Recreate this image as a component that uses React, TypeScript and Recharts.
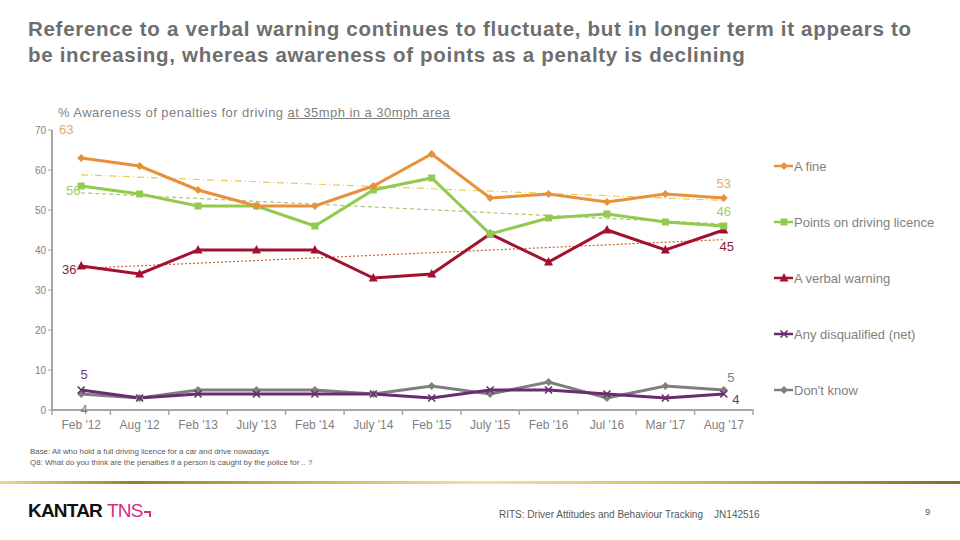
import React from 'react';
import { LineChart, Line, XAxis, YAxis, ReferenceLine, LabelList } from 'recharts';

const months = ["Feb '12", "Aug '12", "Feb '13", "July '13", "Feb '14", "July '14", "Feb '15", "July '15", "Feb '16", "Jul '16", "Mar '17", "Aug '17"];
const fine = [63, 61, 55, 51, 51, 56, 64, 53, 54, 52, 54, 53];
const points = [56, 54, 51, 51, 46, 55, 58, 44, 48, 49, 47, 46];
const verbal = [36, 34, 40, 40, 40, 33, 34, 44, 37, 45, 40, 45];
const disqualified = [5, 3, 4, 4, 4, 4, 3, 5, 5, 4, 3, 4];
const dontKnow = [4, 3, 5, 5, 5, 4, 6, 4, 7, 3, 6, 5];
const yTicks = [0, 10, 20, 30, 40, 50, 60, 70];

// trend endpoints (first / last wave)
const fineTrend = [58.8, 52.4];
const pointsTrend = [54.3, 46.5];
const verbalTrend = [35.4, 42.6];

const data = months.map((m, i) => ({
  month: m,
  fine: fine[i],
  points: points[i],
  verbal: verbal[i],
  disqualified: disqualified[i],
  dontKnow: dontKnow[i],
}));

const GREY = '#7f7f7f';
const AXIS = '#a6a6a6';
const FONT = '"Liberation Sans", Arial, sans-serif';
const BAND = 701 / 12;

type Shape = 'diamond' | 'square' | 'triangle' | 'cross';

function Marker({ cx, cy, shape, color }: { cx: number; cy: number; shape: Shape; color: string }) {
  if (cx == null || cy == null) return null;
  if (shape === 'square') return <rect x={cx - 3.5} y={cy - 3.5} width={7} height={7} fill={color} />;
  if (shape === 'triangle')
    return <polygon points={`${cx},${cy - 5} ${cx + 4.5},${cy + 3.5} ${cx - 4.5},${cy + 3.5}`} fill={color} />;
  if (shape === 'cross')
    return (
      <g stroke={color} strokeWidth={1.6}>
        <line x1={cx - 3.5} y1={cy - 3.5} x2={cx + 3.5} y2={cy + 3.5} />
        <line x1={cx - 3.5} y1={cy + 3.5} x2={cx + 3.5} y2={cy - 3.5} />
      </g>
    );
  return <polygon points={`${cx},${cy - 4} ${cx + 4},${cy} ${cx},${cy + 4} ${cx - 4},${cy}`} fill={color} />;
}

function endLabels(color: string, first: [number, number], last: [number, number]) {
  return (props: any) => {
    const { x, y, index, value } = props;
    if (index !== 0 && index !== months.length - 1) return null;
    const [dx, dy] = index === 0 ? first : last;
    return (
      <text key={index} x={x + dx} y={y + dy} fill={color} fontSize={13} fontFamily={FONT} textAnchor="middle" dominantBaseline="central">
        {value}
      </text>
    );
  };
}

function MonthTick(props: any) {
  const { x, y, payload, index } = props;
  return (
    <g>
      <line x1={x - BAND / 2} y1={y - 1} x2={x - BAND / 2} y2={y + 5} stroke={AXIS} strokeWidth={1.5} />
      {index === months.length - 1 && (
        <line x1={x + BAND / 2} y1={y - 1} x2={x + BAND / 2} y2={y + 5} stroke={AXIS} strokeWidth={1.5} />
      )}
      <text x={x} y={y + 19} textAnchor="middle" fontSize={12} fill={GREY} fontFamily={FONT}>
        {payload.value}
      </text>
    </g>
  );
}

const legendItems: { label: string; color: string; shape: Shape }[] = [
  { label: 'A fine', color: '#e8913a', shape: 'diamond' },
  { label: 'Points on driving licence', color: '#92c94f', shape: 'square' },
  { label: 'A verbal warning', color: '#a4112f', shape: 'triangle' },
  { label: 'Any disqualified (net)', color: '#6a2c70', shape: 'cross' },
  { label: "Don't know", color: GREY, shape: 'diamond' },
];

export default function App() {
  const seriesDot = (color: string, shape: Shape) => (p: any) =>
    <Marker key={p.index} cx={p.cx} cy={p.cy} shape={shape} color={color} />;

  return (
    <div style={{ position: 'absolute', left: 0, top: 0, width: 960, height: 540, background: '#fff', fontFamily: FONT, overflow: 'hidden' }}>
      <div style={{ position: 'absolute', left: 28, top: 16, color: '#6e6e6e', fontWeight: 'bold', fontSize: 20.5, letterSpacing: 0.7, lineHeight: '26px', whiteSpace: 'nowrap' }}>
        Reference to a verbal warning continues to fluctuate, but in longer term it appears to
        <br />
        be increasing, whereas awareness of points as a penalty is declining
      </div>
      <div style={{ position: 'absolute', left: 58, top: 105, color: GREY, fontSize: 13, letterSpacing: 0.45, whiteSpace: 'nowrap' }}>
        % Awareness of penalties for driving <span style={{ textDecoration: 'underline' }}>at 35mph in a 30mph area</span>
      </div>

      <div style={{ position: 'absolute', left: 0, top: 0 }}>
        <LineChart width={960} height={540} data={data} margin={{ top: 130, right: 207, bottom: 100, left: 22 }}>
          <XAxis
            dataKey="month"
            interval={0}
            padding={{ left: BAND / 2, right: BAND / 2 }}
            axisLine={{ stroke: AXIS, strokeWidth: 2 }}
            tickLine={false}
            tickSize={0}
            tickMargin={0}
            height={30}
            tick={<MonthTick />}
          />
          <YAxis
            domain={[0, 70]}
            ticks={yTicks}
            width={30}
            axisLine={{ stroke: AXIS, strokeWidth: 2 }}
            tickLine={{ stroke: AXIS }}
            tickSize={4}
            tick={{ fontSize: 10, fill: GREY, fontFamily: FONT }}
          />
          <ReferenceLine segment={[{ x: months[0], y: fineTrend[0] }, { x: months[11], y: fineTrend[1] }]} stroke="#f2c94c" strokeDasharray="7 3 1 3" strokeWidth={1.2} />
          <ReferenceLine segment={[{ x: months[0], y: pointsTrend[0] }, { x: months[11], y: pointsTrend[1] }]} stroke="#adc66e" strokeDasharray="4 3" strokeWidth={1.2} />
          <ReferenceLine segment={[{ x: months[0], y: verbalTrend[0] }, { x: months[11], y: verbalTrend[1] }]} stroke="#c8662e" strokeDasharray="2 2" strokeWidth={1.2} />

          <Line dataKey="dontKnow" stroke={GREY} strokeWidth={3} dot={seriesDot(GREY, 'diamond')} isAnimationActive={false}>
            <LabelList dataKey="dontKnow" content={endLabels(GREY, [3, 15], [7, -13])} />
          </Line>
          <Line dataKey="disqualified" stroke="#6a2c70" strokeWidth={3} dot={seriesDot('#6a2c70', 'cross')} isAnimationActive={false}>
            <LabelList dataKey="disqualified" content={endLabels('#6a3a78', [3, -16], [12, 5])} />
          </Line>
          <Line dataKey="verbal" stroke="#a4112f" strokeWidth={3} dot={seriesDot('#a4112f', 'triangle')} isAnimationActive={false}>
            <LabelList dataKey="verbal" content={endLabels('#8b1a3a', [-12, 3], [3, 16])} />
          </Line>
          <Line dataKey="points" stroke="#92c94f" strokeWidth={3} dot={seriesDot('#92c94f', 'square')} isAnimationActive={false}>
            <LabelList dataKey="points" content={endLabels('#9ccb6a', [-8, 4], [0, -15])} />
          </Line>
          <Line dataKey="fine" stroke="#e8913a" strokeWidth={3} dot={seriesDot('#e8913a', 'diamond')} isAnimationActive={false}>
            <LabelList dataKey="fine" content={endLabels('#e3ad62', [-15, -29], [0, -15])} />
          </Line>
        </LineChart>
      </div>

      {legendItems.map((it, i) => (
        <div key={it.label} style={{ position: 'absolute', left: 774, top: 158 + i * 56, height: 16, display: 'flex', alignItems: 'center', color: GREY, fontSize: 13, whiteSpace: 'nowrap' }}>
          <svg width={20} height={12}>
            <line x1={0} y1={6} x2={19} y2={6} stroke={it.color} strokeWidth={2.5} />
            <Marker cx={10} cy={6} shape={it.shape} color={it.color} />
          </svg>
          {it.label}
        </div>
      ))}

      <div style={{ position: 'absolute', left: 30, top: 447, fontSize: 7.9, color: '#595959', lineHeight: '10.5px', whiteSpace: 'nowrap' }}>
        Base: All who hold a full driving licence for a car and drive nowadays
        <br />
        Q8: What do you think are the penalties if a person is caught by the police for .. ?
      </div>

      <div style={{ position: 'absolute', left: 0, top: 481, width: 960, height: 3, background: 'linear-gradient(to right, #eadb8c 0%, #9e7c2a 14%, #c9ad55 30%, #f0e2a0 50%, #d6bf6a 70%, #8a6a20 100%)' }} />

      <div style={{ position: 'absolute', left: 28, top: 500, fontSize: 19, fontWeight: 'bold', letterSpacing: -0.8, whiteSpace: 'nowrap', display: 'flex', alignItems: 'baseline' }}>
        <span style={{ color: '#111' }}>KANTAR</span>
        <span style={{ color: '#d2307d', marginLeft: 5, fontWeight: 'normal' }}>TNS</span>
        <span style={{ display: 'inline-block', width: 5, height: 4, borderTop: '2px solid #d2307d', borderRight: '2px solid #d2307d', marginLeft: 1 }} />
      </div>

      <div style={{ position: 'absolute', left: 499, top: 509, fontSize: 10, color: '#595959', whiteSpace: 'pre' }}>
        RITS: Driver Attitudes and Behaviour Tracking    JN142516
      </div>
      <div style={{ position: 'absolute', left: 925, top: 506, fontSize: 9.5, color: '#595959' }}>9</div>
    </div>
  );
}
